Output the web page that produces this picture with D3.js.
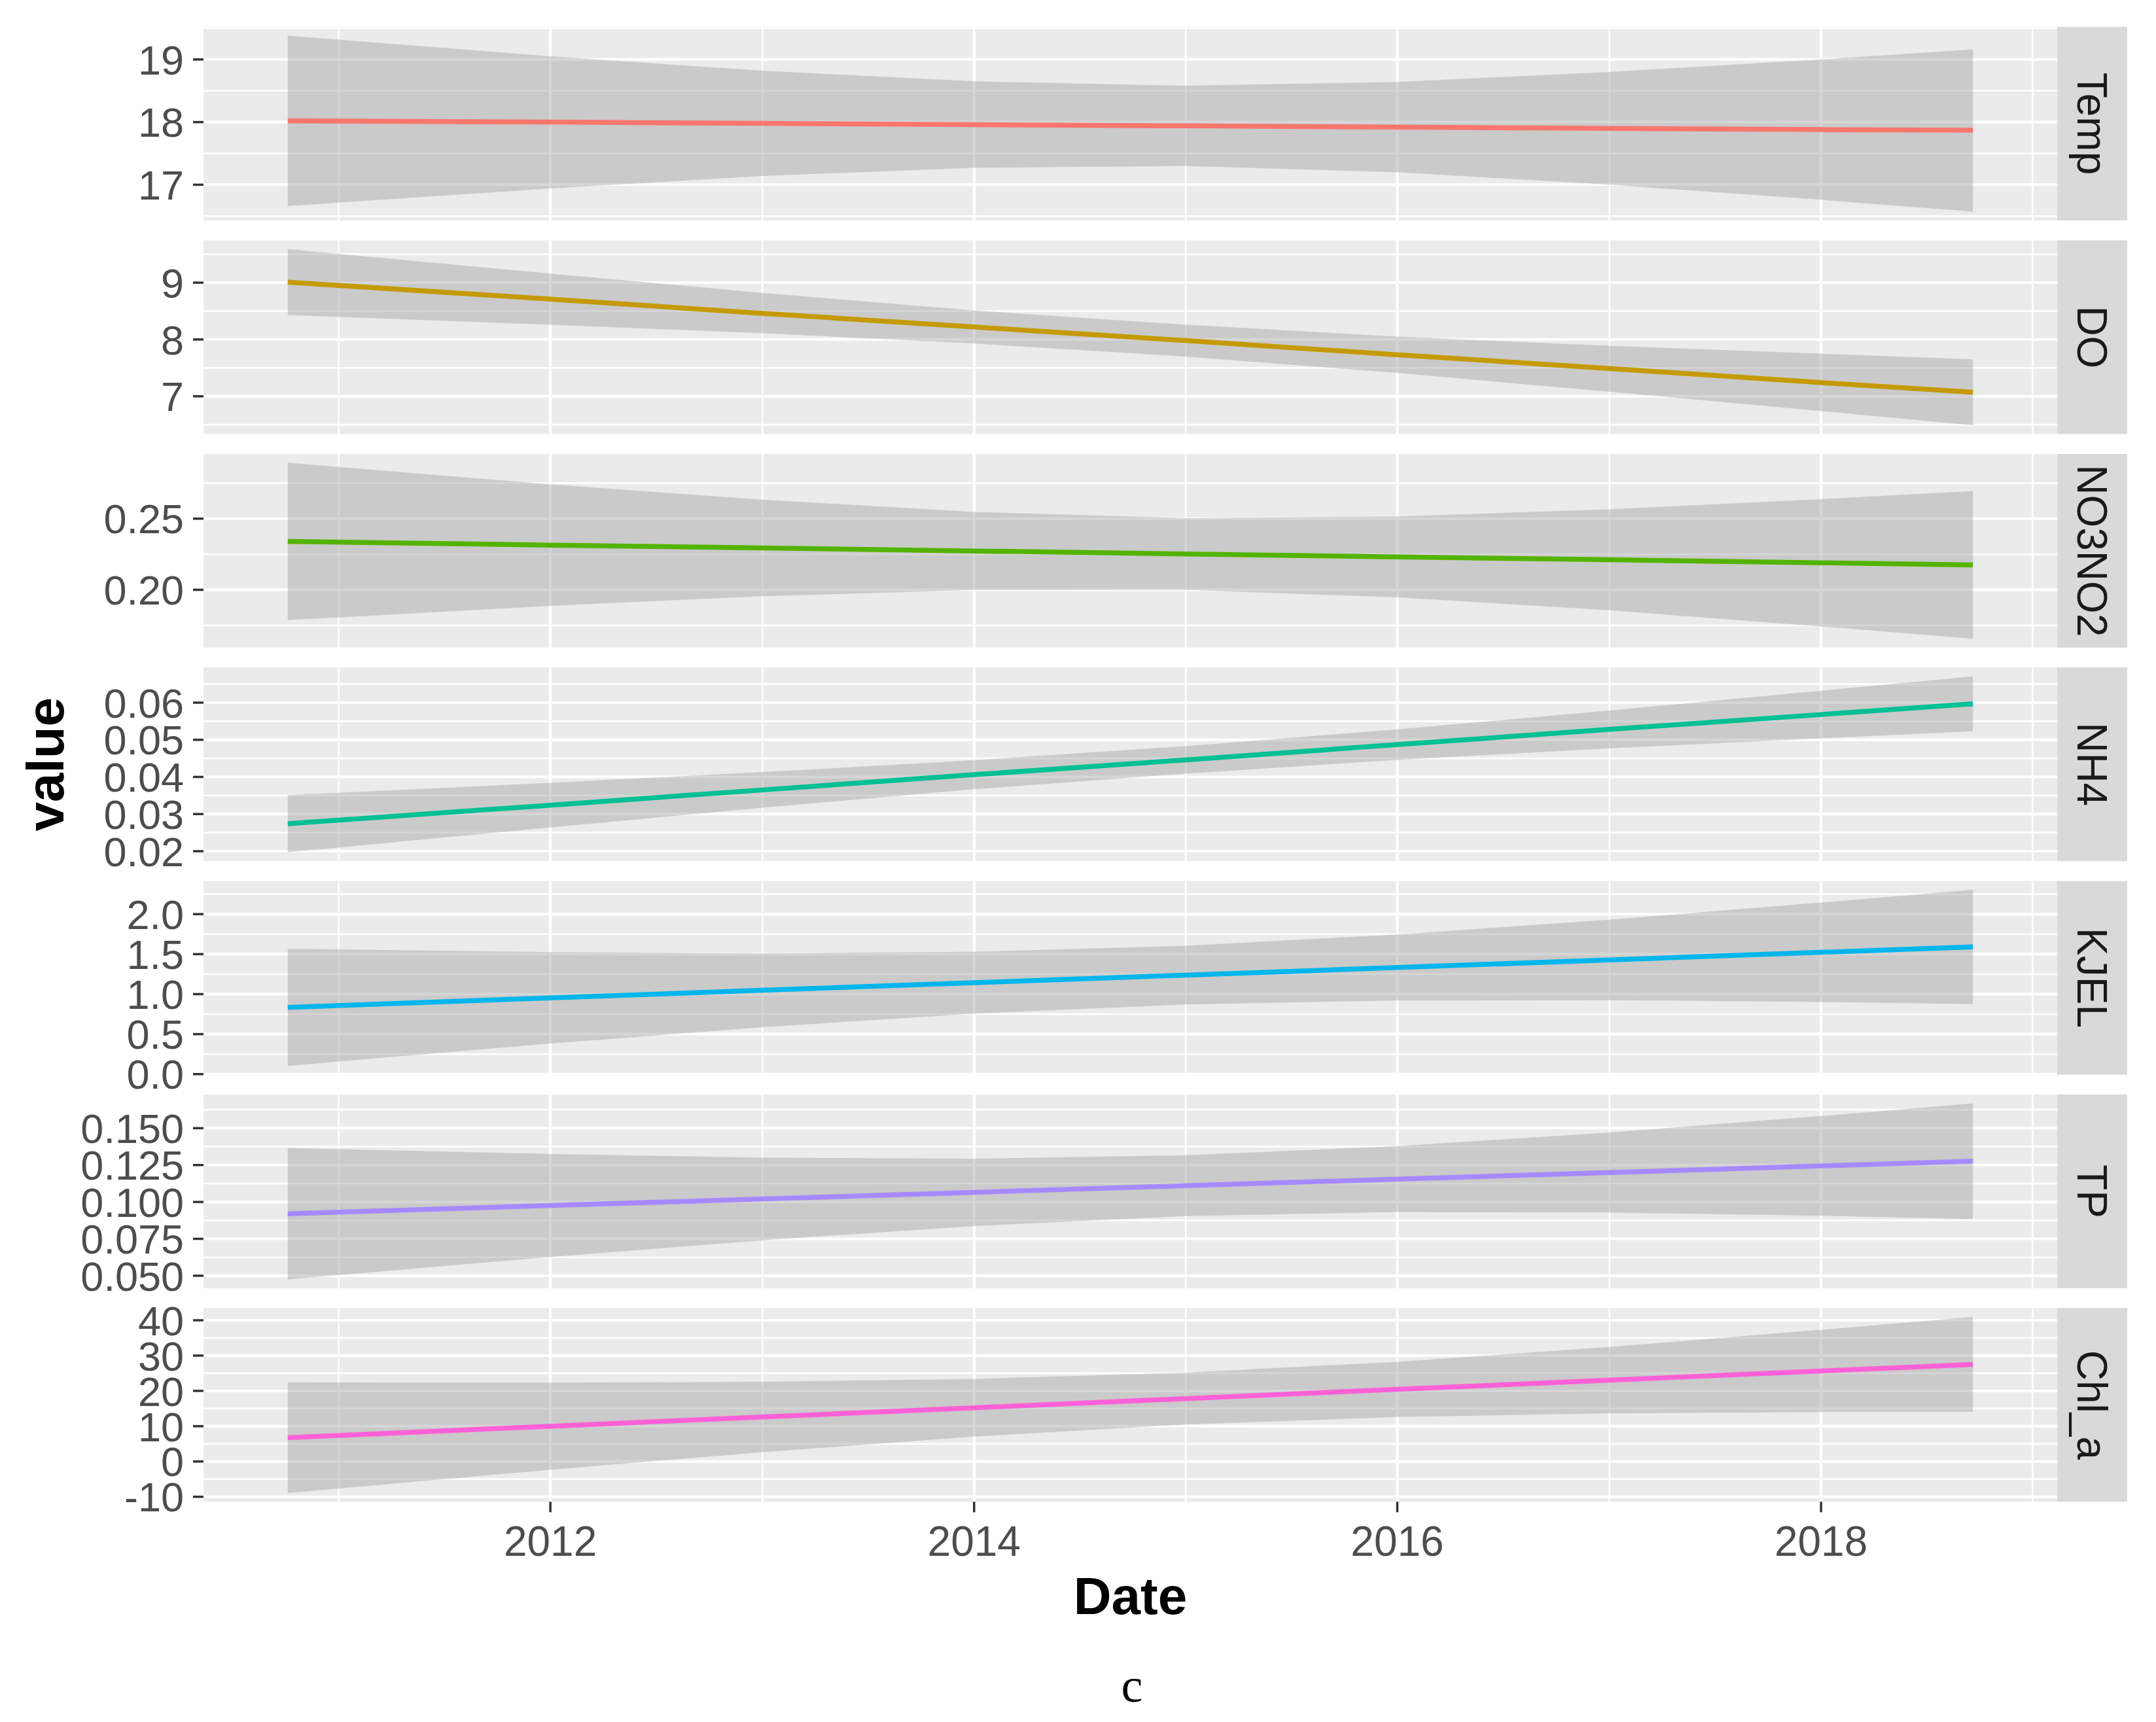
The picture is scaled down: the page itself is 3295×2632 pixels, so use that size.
<!DOCTYPE html>
<html><head><meta charset="utf-8">
<script src="https://cdn.jsdelivr.net/npm/d3@7"></script>
<style>body{margin:0;background:#fff} svg{display:block}</style>
</head><body>
<svg id="chart" width="3295" height="2632"></svg>
<script>
// ---------- data ----------
const dates = ["2010-10-05","2012-01-01","2013-01-01","2014-01-01","2015-01-01","2016-01-01","2017-01-01","2018-01-01","2018-09-20"];
const variables = ["Temp","DO","NO3NO2","NH4","KJEL","TP","Chl_a"];

const fitTemp  = [18.02, 18.00, 17.98, 17.96, 17.94, 17.92, 17.90, 17.88, 17.87];
const lowTemp  = [16.66, 16.94, 17.14, 17.27, 17.30, 17.20, 17.00, 16.76, 16.57];
const highTemp = [19.38, 19.05, 18.82, 18.65, 18.58, 18.64, 18.80, 19.00, 19.16];

const fitDO  = [9.01, 8.71, 8.46, 8.22, 7.98, 7.73, 7.49, 7.24, 7.07];
const lowDO  = [8.43, 8.26, 8.11, 7.93, 7.70, 7.41, 7.08, 6.74, 6.49];
const highDO = [9.59, 9.16, 8.82, 8.51, 8.26, 8.05, 7.89, 7.75, 7.65];

const fitNO3  = [0.2340, 0.2314, 0.2294, 0.2273, 0.2252, 0.2231, 0.2211, 0.2190, 0.2175];
const lowNO3  = [0.1787, 0.1887, 0.1955, 0.1999, 0.2000, 0.1947, 0.1856, 0.1743, 0.1656];
const highNO3 = [0.2893, 0.2741, 0.2633, 0.2547, 0.2504, 0.2515, 0.2566, 0.2637, 0.2694];

const fitNH4  = [0.0274, 0.0324, 0.0365, 0.0406, 0.0446, 0.0487, 0.0528, 0.0568, 0.0597];
const lowNH4  = [0.0197, 0.0264, 0.0317, 0.0367, 0.0409, 0.0446, 0.0477, 0.0504, 0.0523];
const highNH4 = [0.0351, 0.0384, 0.0413, 0.0445, 0.0483, 0.0528, 0.0579, 0.0632, 0.0671];

const fitKJEL  = [0.835, 0.953, 1.048, 1.143, 1.238, 1.333, 1.428, 1.523, 1.590];
const lowKJEL  = [0.103, 0.382, 0.586, 0.756, 0.871, 0.921, 0.925, 0.902, 0.876];
const highKJEL = [1.567, 1.525, 1.510, 1.530, 1.605, 1.745, 1.931, 2.144, 2.304];

const fitTP  = [0.0920, 0.0976, 0.1020, 0.1065, 0.1110, 0.1155, 0.1199, 0.1244, 0.1276];
const lowTP  = [0.0475, 0.0627, 0.0740, 0.0837, 0.0904, 0.0932, 0.0928, 0.0906, 0.0884];
const highTP = [0.1365, 0.1325, 0.1300, 0.1293, 0.1316, 0.1378, 0.1470, 0.1582, 0.1668];

const fitChl  = [6.75, 9.99, 12.60, 15.21, 17.82, 20.43, 23.04, 25.65, 27.50];
const lowChl  = [-8.92, -2.35, 2.63, 7.04, 10.48, 12.61, 13.64, 14.01, 14.05];
const highChl = [22.42, 22.33, 22.57, 23.38, 25.16, 28.25, 32.44, 37.29, 40.95];

const yTicksTemp = ["17","18","19"];
const yTicksDO   = ["7","8","9"];
const yTicksNO3  = ["0.20","0.25"];
const yTicksNH4  = ["0.02","0.03","0.04","0.05","0.06"];
const yTicksKJEL = ["0.0","0.5","1.0","1.5","2.0"];
const yTicksTP   = ["0.050","0.075","0.100","0.125","0.150"];
const yTicksChl  = ["-10","0","10","20","30","40"];

const xTickLabels = ["2012","2014","2016","2018"];
const xMinorYears = ["2011","2013","2015","2017","2019"];

const colors = ["#F8766D","#C49A00","#53B400","#00C094","#00B6EB","#A58AFF","#FB61D7"];

// ---------- build panels ----------
const fits  = [fitTemp, fitDO, fitNO3, fitNH4, fitKJEL, fitTP, fitChl];
const lows  = [lowTemp, lowDO, lowNO3, lowNH4, lowKJEL, lowTP, lowChl];
const highs = [highTemp, highDO, highNO3, highNH4, highKJEL, highTP, highChl];
const yTicks = [yTicksTemp, yTicksDO, yTicksNO3, yTicksNH4, yTicksKJEL, yTicksTP, yTicksChl];

const parse = d3.timeParse("%Y-%m-%d");
const dateObjs = dates.map(parse);

const svg = d3.select("#chart");
const FONT = "'Liberation Sans', Arial, sans-serif";
const panelLeft = 311, panelRight = 3144, stripW = 107;
const top0 = 41, panelH = 296, panelStep = 326.4;

// x scale with 5% expansion
const ext = d3.extent(dateObjs);
const span = ext[1] - ext[0];
const x = d3.scaleTime()
  .domain([new Date(+ext[0] - 0.05*span), new Date(+ext[1] + 0.05*span)])
  .range([panelLeft, panelRight]);
const yearDate = y => new Date(+y, 0, 1);

svg.append("rect").attr("width",3295).attr("height",2632).attr("fill","#fff");

variables.forEach((v, i) => {
  const top = top0 + i*panelStep, bot = top + panelH;
  const lo = d3.min(lows[i]), hi = d3.max(highs[i]);
  const pad = 0.05*(hi - lo);
  const y = d3.scaleLinear().domain([lo - pad, hi + pad]).range([bot, top]);
  const g = svg.append("g");

  g.append("rect").attr("x", panelLeft).attr("y", top)
    .attr("width", panelRight - panelLeft).attr("height", panelH).attr("fill", "#EBEBEB");

  // grid lines
  const majors = yTicks[i].map(Number);
  const stepY = majors[1] - majors[0];
  const minors = [majors[0] - stepY/2].concat(majors.map(m => m + stepY/2))
    .filter(m => m > y.domain()[0] && m < y.domain()[1]);
  g.selectAll(".hmin").data(minors).enter().append("line")
    .attr("x1", panelLeft).attr("x2", panelRight)
    .attr("y1", d => y(d)).attr("y2", d => y(d))
    .attr("stroke", "#fff").attr("stroke-width", 2.6);
  g.selectAll(".vmin").data(xMinorYears).enter().append("line")
    .attr("x1", d => x(yearDate(d))).attr("x2", d => x(yearDate(d)))
    .attr("y1", top).attr("y2", bot)
    .attr("stroke", "#fff").attr("stroke-width", 2.6);
  g.selectAll(".hmaj").data(majors).enter().append("line")
    .attr("x1", panelLeft).attr("x2", panelRight)
    .attr("y1", d => y(d)).attr("y2", d => y(d))
    .attr("stroke", "#fff").attr("stroke-width", 4);
  g.selectAll(".vmaj").data(xTickLabels).enter().append("line")
    .attr("x1", d => x(yearDate(d))).attr("x2", d => x(yearDate(d)))
    .attr("y1", top).attr("y2", bot)
    .attr("stroke", "#fff").attr("stroke-width", 4);

  const pts = dateObjs.map((d, k) => ({d, f: fits[i][k], lo: lows[i][k], hi: highs[i][k]}));
  g.append("path").datum(pts)
    .attr("d", d3.area().x(p => x(p.d)).y0(p => y(p.lo)).y1(p => y(p.hi)))
    .attr("fill", "#999999").attr("fill-opacity", 0.4);
  g.append("path").datum(pts)
    .attr("d", d3.line().x(p => x(p.d)).y(p => y(p.f)))
    .attr("fill", "none").attr("stroke", colors[i]).attr("stroke-width", 7.5);

  // y axis ticks + labels
  g.selectAll(".yt").data(yTicks[i]).enter().append("line")
    .attr("x1", panelLeft - 16).attr("x2", panelLeft)
    .attr("y1", d => y(+d)).attr("y2", d => y(+d))
    .attr("stroke", "#333333").attr("stroke-width", 3.5);
  g.selectAll(".yl").data(yTicks[i]).enter().append("text")
    .attr("x", panelLeft - 30).attr("y", d => y(+d)).attr("dy", "0.36em")
    .attr("text-anchor", "end").attr("font-family", FONT).attr("font-size", 63)
    .attr("fill", "#4D4D4D").text(d => d);

  // strip
  g.append("rect").attr("x", panelRight).attr("y", top)
    .attr("width", stripW).attr("height", panelH).attr("fill", "#D9D9D9");
  g.append("text")
    .attr("transform", `translate(${panelRight + stripW/2},${top + panelH/2}) rotate(90)`)
    .attr("text-anchor", "middle").attr("dy", "0.35em")
    .attr("font-family", FONT).attr("font-size", 64).attr("fill", "#1A1A1A").text(v);

  if (i === variables.length - 1) {
    g.selectAll(".xt").data(xTickLabels).enter().append("line")
      .attr("x1", d => x(yearDate(d))).attr("x2", d => x(yearDate(d)))
      .attr("y1", bot).attr("y2", bot + 16)
      .attr("stroke", "#333333").attr("stroke-width", 3.5);
    g.selectAll(".xl").data(xTickLabels).enter().append("text")
      .attr("x", d => x(yearDate(d))).attr("y", 2378)
      .attr("text-anchor", "middle").attr("font-family", FONT).attr("font-size", 64)
      .attr("fill", "#4D4D4D").text(d => d);
  }
});

// axis titles
svg.append("text").attr("x", (panelLeft + panelRight)/2).attr("y", 2467)
  .attr("text-anchor", "middle").attr("font-family", FONT).attr("font-weight", "bold")
  .attr("font-size", 80).attr("fill", "#000").text("Date");
svg.append("text")
  .attr("transform", `translate(97,${top0 + (6*panelStep + panelH)/2}) rotate(-90)`)
  .attr("text-anchor", "middle").attr("font-family", FONT).attr("font-weight", "bold")
  .attr("font-size", 80).attr("fill", "#000").text("value");
svg.append("text").attr("x", 1730).attr("y", 2601)
  .attr("text-anchor", "middle").attr("font-family", "'Liberation Serif', 'Times New Roman', serif")
  .attr("font-size", 74).attr("fill", "#000").text("c");
</script>
</body></html>
